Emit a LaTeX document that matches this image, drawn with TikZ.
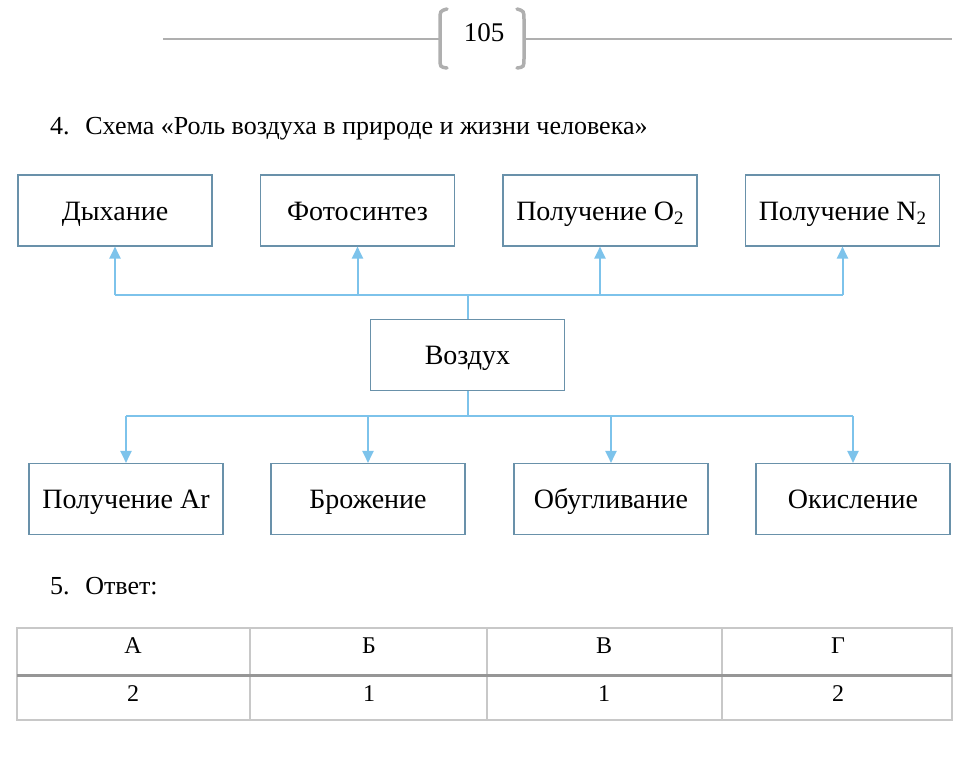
\documentclass[tikz,border=0pt]{standalone}
\usepackage{fontspec}
\setmainfont{Liberation Serif}
\usetikzlibrary{arrows.meta}
\definecolor{boxc}{RGB}{105,145,170}
\definecolor{arrc}{RGB}{125,195,235}
\definecolor{pagec}{RGB}{175,175,175}
\definecolor{tabc}{RGB}{200,200,200}
\definecolor{tabm}{RGB}{150,150,150}
\newcommand{\subtwo}{\raisebox{-0.35ex}{\fontsize{19}{20}\selectfont 2}}
\tikzset{
  box/.style={draw=boxc, line width=1.1pt, minimum width=194pt, minimum height=71pt, inner sep=0pt,
    text height=22pt, text depth=3pt, font=\fontsize{28}{32}\selectfont},
  arr/.style={draw=arrc, line width=2pt, -{Triangle[width=11pt,length=12pt]}},
  bus/.style={draw=arrc, line width=2pt},
  cell/.style={font=\fontsize{24}{28}\selectfont, inner sep=0pt},
  plain/.style={font=\fontsize{26}{30}\selectfont, inner sep=0pt, anchor=west}
}
\begin{document}
\begin{tikzpicture}[x=1pt,y=-1pt]
\useasboundingbox (0,0) rectangle (970,771);
% page header
\coordinate (hl1) at (163,39); \coordinate (hl2) at (439,39);
\coordinate (hr1) at (525,39); \coordinate (hr2) at (952,39);
\draw[pagec, line width=2pt] (hl1) -- (hl2);
\draw[pagec, line width=2pt] (hr1) -- (hr2);
\draw[pagec, line width=3.5pt, line cap=round] (447,9) .. controls (440,11) .. (440,20) -- (440,58) .. controls (440,67) .. (447,68);
\draw[pagec, line width=3.5pt, line cap=round] (517,9) .. controls (524,11) .. (524,20) -- (524,58) .. controls (524,67) .. (517,68);
\node[font=\fontsize{27}{30}\selectfont, inner sep=0pt] (page) at (484,33) {105};
% title
\node[plain] (t4) at (50,129) {4.\hspace{0.6em}Схема «Роль воздуха в природе и жизни человека»};
% top boxes
\node[box] (dyh) at (115,210.5) {Дыхание};
\node[box] (foto) at (357.5,210.5) {Фотосинтез};
\node[box] (oxy) at (600,210.5) {Получение O\subtwo};
\node[box] (nit) at (842.5,210.5) {Получение N\subtwo};
% centre
\node[box] (air) at (467.5,355) {Воздух};
% bottom boxes
\node[box] (ar) at (126,499) {Получение Ar};
\node[box] (bro) at (368,499) {Брожение};
\node[box] (obu) at (611,499) {Обугливание};
\node[box] (oki) at (853,499) {Окисление};
% top bus
\coordinate (tb) at (0,295);
\coordinate (tl) at (dyh.south |- tb);
\coordinate (tr) at (nit.south |- tb);
\coordinate (tc) at (air.north |- tb);
\draw[bus] (tl) -- (tr);
\draw[bus] (air.north) -- (tc);
\draw[arr] (tl) -- (dyh.south);
\draw[arr] (foto.south |- tb) -- (foto.south);
\draw[arr] (oxy.south |- tb) -- (oxy.south);
\draw[arr] (tr) -- (nit.south);
% bottom bus
\coordinate (bb) at (0,416);
\coordinate (bl) at (ar.north |- bb);
\coordinate (br) at (oki.north |- bb);
\coordinate (bc) at (air.south |- bb);
\draw[bus] (bl) -- (br);
\draw[bus] (air.south) -- (bc);
\draw[arr] (bl) -- (ar.north);
\draw[arr] (bro.north |- bb) -- (bro.north);
\draw[arr] (obu.north |- bb) -- (obu.north);
\draw[arr] (br) -- (oki.north);
% answer
\node[plain] (t5) at (50,586) {5.\hspace{0.6em}Ответ:};
\draw[tabc, line width=1.5pt] (17,628) rectangle (952,720);
\draw[tabc, line width=1.5pt] (250,628) -- (250,720);
\draw[tabc, line width=1.5pt] (487,628) -- (487,720);
\draw[tabc, line width=1.5pt] (722,628) -- (722,720);
\draw[tabm, line width=3pt] (17,675) -- (952,675);
\node[cell] (ha) at (133,646) {А};
\node[cell] (hb) at (369,646) {Б};
\node[cell] (hv) at (604,646) {В};
\node[cell] (hg) at (838,646) {Г};
\node[cell] (va) at (133,694) {2};
\node[cell] (vb) at (369,694) {1};
\node[cell] (vv) at (604,694) {1};
\node[cell] (vg) at (838,694) {2};
\end{tikzpicture}
\end{document}
